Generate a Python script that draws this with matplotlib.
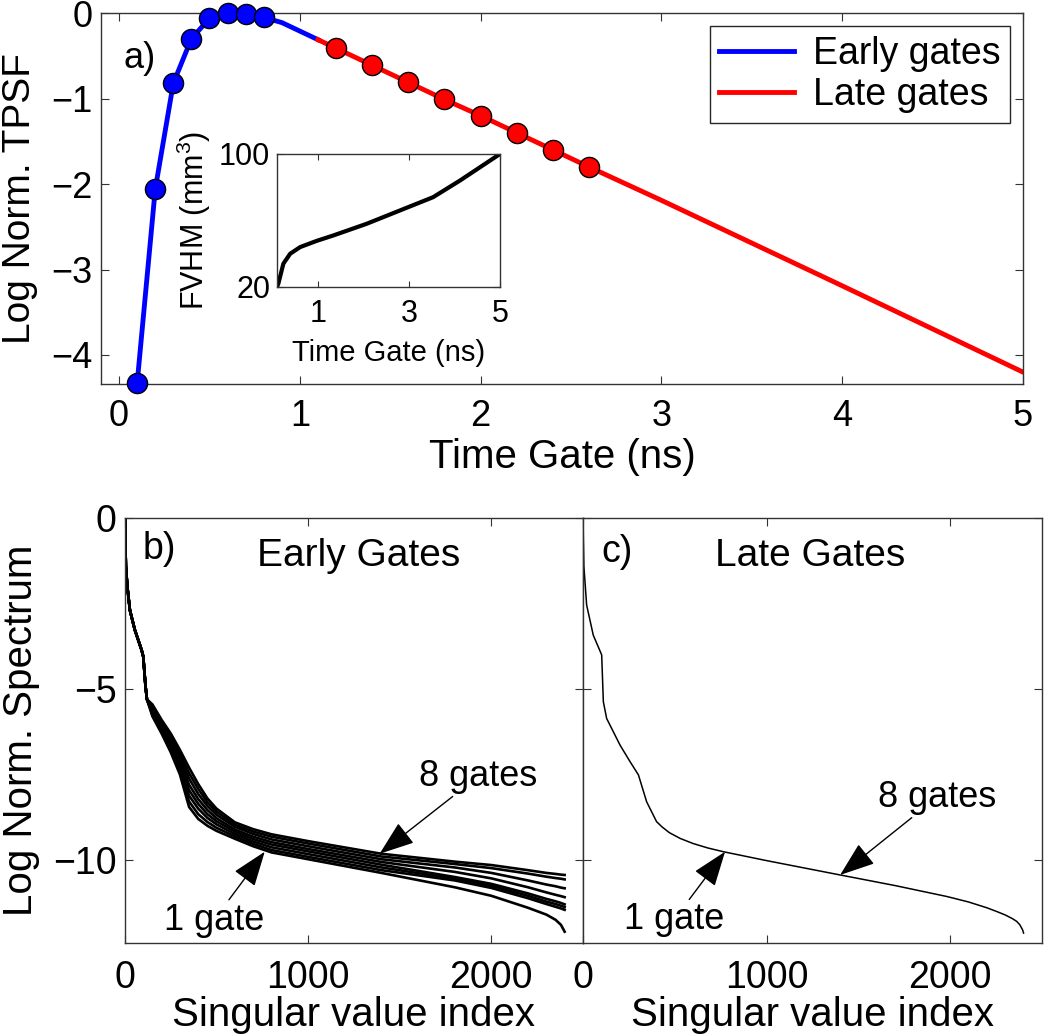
import matplotlib
matplotlib.use("Agg")
import matplotlib.pyplot as plt

plt.rcParams['font.family'] = ['Liberation Sans', 'DejaVu Sans']
plt.rcParams['mathtext.fontset'] = 'custom'
plt.rcParams['mathtext.rm'] = 'Liberation Sans'
plt.rcParams['axes.linewidth'] = 1.0
plt.rcParams['axes.edgecolor'] = '0.2'

# --- panel a: log normalised TPSF ---
tpsf_t = [0.1, 0.2, 0.3, 0.4, 0.5, 0.6, 0.7, 0.8, 0.9, 1.0, 1.1,
          1.2, 1.4, 1.6, 1.8, 2.0, 2.2, 2.4, 2.6, 3.0, 4.0, 5.0]
tpsf_v = [-4.33, -2.06, -0.82, -0.30, -0.06, 0.0, -0.01, -0.05, -0.11, -0.21, -0.31,
          -0.41, -0.61, -0.81, -1.01, -1.20, -1.40, -1.60, -1.80, -2.19, -3.19, -4.20]
early_split = 11  # curve is blue up to 1.1 ns

early_gate_t = [0.1, 0.2, 0.3, 0.4, 0.5, 0.6, 0.7, 0.8]
early_gate_v = [-4.33, -2.06, -0.82, -0.30, -0.06, 0.0, -0.01, -0.05]
late_gate_t = [1.2, 1.4, 1.6, 1.8, 2.0, 2.2, 2.4, 2.6]
late_gate_v = [-0.41, -0.61, -0.81, -1.01, -1.20, -1.40, -1.60, -1.80]

# inset: FVHM vs time gate
fvhm_t = [0.1, 0.13, 0.24, 0.39, 0.61, 0.97, 1.34, 2.07, 2.8, 3.53, 4.12, 4.56, 5.0]
fvhm_v = [20, 22, 34, 40, 44, 47.7, 51, 58, 66, 74, 84, 92, 100]

# --- panel b: singular value spectra, early gates (1..8 gates) ---
head_idx = [1, 2, 5, 13, 27, 54, 91, 100, 112, 120]
head_val = [0, -0.6, -1.4, -2.0, -2.69, -3.27, -3.86, -4.05, -4.9, -5.3]
tail_idx = [150, 200, 250, 300, 350, 400, 450, 500, 600, 700, 800, 1000, 1400,
            1800, 2000, 2200, 2300, 2350, 2380, 2400]
early_spectra = {
    1: [-5.80, -6.30, -6.85, -7.50, -8.45, -8.80, -9.00, -9.15, -9.38, -9.60, -9.78, -9.98, -10.38,
        -10.80, -11.05, -11.40, -11.60, -11.75, -11.90, -12.10],
    2: [-5.75, -6.24, -6.77, -7.40, -8.29, -8.66, -8.89, -9.06, -9.31, -9.53, -9.71, -9.91, -10.30,
        -10.60, -10.82, -11.12, -11.29, -11.37, -11.42, -11.46],
    3: [-5.70, -6.18, -6.69, -7.29, -8.12, -8.50, -8.77, -8.96, -9.24, -9.46, -9.63, -9.83, -10.22,
        -10.55, -10.76, -11.05, -11.22, -11.29, -11.34, -11.38],
    4: [-5.65, -6.13, -6.61, -7.19, -7.96, -8.36, -8.66, -8.87, -9.17, -9.39, -9.55, -9.75, -10.14,
        -10.50, -10.70, -10.98, -11.14, -11.21, -11.26, -11.30],
    5: [-5.60, -6.07, -6.54, -7.09, -7.80, -8.22, -8.54, -8.78, -9.11, -9.32, -9.48, -9.68, -10.06,
        -10.35, -10.54, -10.80, -10.95, -11.02, -11.06, -11.09],
    6: [-5.55, -6.01, -6.45, -6.98, -7.62, -8.07, -8.42, -8.68, -9.03, -9.24, -9.40, -9.60, -9.98,
        -10.22, -10.38, -10.60, -10.72, -10.77, -10.81, -10.83],
    7: [-5.50, -5.96, -6.38, -6.88, -7.46, -7.92, -8.31, -8.59, -8.97, -9.17, -9.32, -9.52, -9.90,
        -10.12, -10.24, -10.40, -10.49, -10.53, -10.55, -10.57],
    8: [-5.45, -5.90, -6.30, -6.78, -7.30, -7.78, -8.20, -8.50, -8.90, -9.10, -9.25, -9.45, -9.82,
        -10.05, -10.15, -10.30, -10.38, -10.41, -10.43, -10.44],
}

# --- panel c: late gates spectrum ---
late_idx = [1, 2, 5, 20, 56, 102, 111, 129, 202, 256, 302, 347, 401, 430, 470, 529, 600, 680,
            765, 1000, 1401, 1700, 1982, 2100, 2200, 2254, 2300, 2340, 2363, 2380, 2395, 2400]
late_val = [0, -0.5, -1.4, -2.54, -3.42, -4.0, -5.37, -5.86, -6.64, -7.12, -7.51, -8.3, -8.88,
            -9.03, -9.2, -9.37, -9.52, -9.65, -9.76, -10.02, -10.44, -10.75, -11.07, -11.23,
            -11.4, -11.51, -11.61, -11.72, -11.80, -11.9, -12.05, -12.14]

fig = plt.figure(figsize=(10.5, 10.36), dpi=100)

tick_kw = dict(direction='in', top=True, right=True, length=6, width=0.8,
               labelsize=26, color='0.2')

# panel a
ax = fig.add_axes([0.0962, 0.6293, 0.878, 0.358])
ax.plot(tpsf_t[:early_split], tpsf_v[:early_split], color='#0000ff', lw=3.5, label='Early gates')
ax.plot(tpsf_t[early_split - 1:], tpsf_v[early_split - 1:], color='#ff0000', lw=3.5, label='Late gates')
ax.plot(early_gate_t, early_gate_v, 'o', ms=14.5, mfc='#0000ff', mec='k', mew=1, clip_on=False, zorder=5)
ax.plot(late_gate_t, late_gate_v, 'o', ms=14.5, mfc='#ff0000', mec='k', mew=1, clip_on=False, zorder=5)
ax.set_xlim(-0.1, 5)
ax.set_ylim(-4.34, 0)
ax.set_xticks([0, 1, 2, 3, 4, 5])
ax.set_yticks([-4, -3, -2, -1, 0])
ax.tick_params(**tick_kw)
ax.tick_params(axis='x', pad=11)
ax.tick_params(axis='y', pad=6)
ax.set_xlabel('Time Gate (ns)', fontsize=29)
ax.set_ylabel('Log Norm. TPSF', fontsize=28)
ax.xaxis.set_label_coords(0.5, -0.145)
ax.yaxis.set_label_coords(-0.068, 0.5)
ax.text(0.024, 0.879, 'a)', transform=ax.transAxes, fontsize=26, va='center', ha='left')
leg = ax.legend(loc='upper right', fontsize=27, frameon=True, fancybox=False,
                edgecolor='0.15', framealpha=1, borderaxespad=0.35, handlelength=2.0,
                labelspacing=0.15, borderpad=0.25, handletextpad=0.5)
leg.get_frame().set_linewidth(1.0)

# inset
axi = fig.add_axes([0.2638, 0.723, 0.2124, 0.1284])
axi.plot(fvhm_t, fvhm_v, color='k', lw=3)
axi.set_xlim(0.1, 5)
axi.set_ylim(20, 100)
axi.set_xticks([1, 3, 5])
axi.set_yticks([20, 100])
axi.tick_params(direction='in', top=True, right=True, length=4, width=0.8,
                labelsize=22, color='0.2')
axi.tick_params(axis='x', pad=9)
axi.tick_params(axis='y', pad=5)
axi.set_xlabel('Time Gate (ns)', fontsize=21)
axi.set_ylabel(r'FVHM (mm$^\mathrm{3}$)', fontsize=22)
axi.xaxis.set_label_coords(0.5, -0.39)

arrow_kw = dict(arrowstyle='-|>,head_length=1.1,head_width=0.4', color='k',
                lw=1, mutation_scale=20, shrinkA=0, shrinkB=0)

# panel b
axb = fig.add_axes([0.119, 0.0898, 0.4362, 0.410])
for n, vals in early_spectra.items():
    axb.plot(head_idx + tail_idx, head_val + vals, color='k', lw=1.9)
axb.set_xlim(0, 2500)
axb.set_ylim(-12.43, 0)
axb.set_xticks([0, 1000, 2000])
axb.set_yticks([-10, -5, 0])
axb.tick_params(**tick_kw)
axb.tick_params(axis='both', labelsize=27)
axb.tick_params(axis='x', pad=12)
axb.tick_params(axis='y', pad=6)
axb.set_xlabel('Singular value index', fontsize=29)
axb.set_ylabel('Log Norm. Spectrum', fontsize=29)
axb.xaxis.set_label_coords(0.5, -0.125)
axb.yaxis.set_label_coords(-0.185, 0.5)
axb.text(0.039, 0.927, 'b)', transform=axb.transAxes, fontsize=27, va='center', ha='left')
axb.text(0.51, 0.91, 'Early Gates', transform=axb.transAxes, fontsize=28, va='center', ha='center')
axb.annotate('8 gates', xy=(1390, -9.82), xytext=(1930, -7.55), fontsize=26,
             ha='center', va='center', arrowprops=arrow_kw)
axb.annotate('1 gate', xy=(763, -9.76), xytext=(485, -11.76), fontsize=26,
             ha='center', va='center', arrowprops=arrow_kw)

# panel c
axc = fig.add_axes([0.5552, 0.0898, 0.4371, 0.410])
axc.plot(late_idx, late_val, color='k', lw=1.1)
axc.set_xlim(0, 2500)
axc.set_ylim(-12.43, 0)
axc.set_xticks([0, 1000, 2000])
axc.set_yticks([-10, -5, 0])
axc.tick_params(**tick_kw)
axc.tick_params(axis='both', labelsize=27)
axc.tick_params(axis='x', pad=12)
axc.set_yticklabels([])
axc.set_xlabel('Singular value index', fontsize=29)
axc.xaxis.set_label_coords(0.5, -0.125)
axc.text(0.041, 0.92, 'c)', transform=axc.transAxes, fontsize=27, va='center', ha='left')
axc.text(0.495, 0.91, 'Late Gates', transform=axc.transAxes, fontsize=28, va='center', ha='center')
axc.annotate('8 gates', xy=(1401, -10.44), xytext=(1929, -8.17), fontsize=26,
             ha='center', va='center', arrowprops=arrow_kw)
axc.annotate('1 gate', xy=(774, -9.76), xytext=(496, -11.75), fontsize=26,
             ha='center', va='center', arrowprops=arrow_kw)

fig.savefig('out.png', dpi=100)
